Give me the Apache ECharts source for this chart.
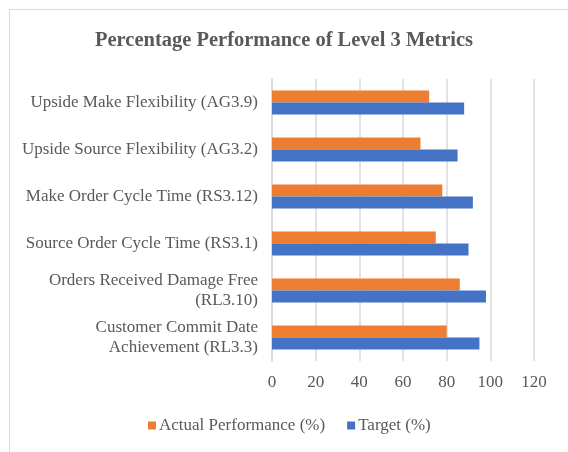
<!DOCTYPE html>
<html><head><meta charset="utf-8">
<script src="https://cdn.jsdelivr.net/npm/echarts@6/dist/echarts.min.js"></script>
<style>html,body{margin:0;padding:0;background:#fff;}#c{width:568px;height:452px;}</style>
</head><body><div id="c"></div>
<script>
const categories = [
  "Customer Commit Date\nAchievement (RL3.3)",
  "Orders Received Damage Free\n(RL3.10)",
  "Source Order Cycle Time (RS3.1)",
  "Make Order Cycle Time (RS3.12)",
  "Upside Source Flexibility (AG3.2)",
  "Upside Make Flexibility (AG3.9)"
];
const actual = [80, 86, 75, 78, 68, 72];
const target = [95, 98, 90, 92, 85, 88];
const xTicks = [0, 20, 40, 60, 80, 100, 120];

const font = "'Liberation Serif', 'Times New Roman', serif";
const chart = echarts.init(document.getElementById('c'), null, {renderer: 'canvas'});
chart.setOption({
  animation: false,
  backgroundColor: '#fff',
  graphic: [{type: 'rect', left: 7, top: 7, shape: {width: 600, height: 500}, style: {fill: 'none', stroke: '#d9d9d9', lineWidth: 1}, silent: true}],
  title: {text: 'Percentage Performance of Level 3 Metrics', left: 'center', top: 25,
    textStyle: {fontFamily: font, fontSize: 20.5, fontWeight: 'bold', color: '#595959'}},
  legend: {data: ['Actual Performance (%)', 'Target (%)'], bottom: 13, left: 143,
    itemWidth: 8, itemHeight: 8, itemGap: 22, icon: 'rect',
    textStyle: {fontFamily: font, fontSize: 17, color: '#595959', padding: [0,0,0,-2]}},
  grid: {left: 272, right: 34, top: 79, bottom: 91},
  xAxis: {type: 'value', min: xTicks[0], max: xTicks[xTicks.length-1], interval: 20,
    axisLine: {show: false}, axisTick: {show: false},
    splitLine: {lineStyle: {color: '#d9d9d9', width: 1.5}},
    axisLabel: {fontFamily: font, fontSize: 17, color: '#595959', margin: 13}},
  yAxis: {type: 'category', data: categories,
    axisLine: {show: true, lineStyle: {color: '#d9d9d9', width: 1.5}}, axisTick: {show: false},
    axisLabel: {fontFamily: font, fontSize: 17, color: '#595959', margin: 14, lineHeight: 20, align: 'right'}},
  series: [
    {name: 'Actual Performance (%)', type: 'bar', data: actual, barWidth: 12, barGap: '0%', itemStyle: {color: '#ED7D31'}},
    {name: 'Target (%)', type: 'bar', data: target, barWidth: 12, barGap: '0%', itemStyle: {color: '#4472C4'}}
  ]
});
</script></body></html>
